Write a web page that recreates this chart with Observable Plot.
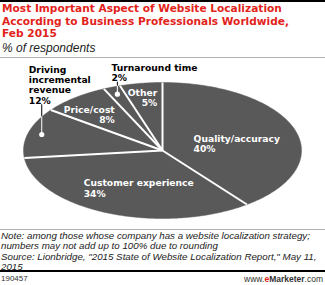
<!DOCTYPE html>
<html><head><meta charset="utf-8">
<script src="https://cdn.jsdelivr.net/npm/d3@7"></script>
<script src="https://cdn.jsdelivr.net/npm/@observablehq/plot@0.6"></script>
<style>
body{margin:0;background:#fff;}
#wrap{position:relative;width:325px;height:285px;overflow:hidden;font-family:"Liberation Sans",Arial,sans-serif;}
.bar{position:absolute;left:0;width:325px;}
.title{position:absolute;left:2px;top:2px;font-family:"DejaVu Sans",sans-serif;font-weight:bold;font-size:10.6px;line-height:12.5px;color:#e2231a;white-space:nowrap;}
.sub{position:absolute;left:2px;top:41px;font-style:italic;font-size:12px;line-height:14px;color:#222;}
#chart{position:absolute;left:0;top:58px;}
.notes{position:absolute;left:1px;top:231px;font-style:italic;font-size:9.75px;line-height:10.4px;color:#222;white-space:nowrap;}
.foot{position:absolute;top:274px;font-size:8px;line-height:10px;color:#333;}
</style></head>
<body><div id="wrap">
<div class="bar" style="top:0;height:2px;background:#000"></div>
<div class="title">Most Important Aspect of Website Localization<br>According to Business Professionals Worldwide,<br>Feb 2015</div>
<div class="sub">% of respondents</div>
<div class="bar" style="top:57px;height:1px;background:#b0b0b0"></div>
<div id="chart"></div>
<div class="bar" style="top:229px;height:1px;background:#b0b0b0"></div>
<div class="notes">Note: among those whose company has a website localization strategy;<br>numbers may not add up to 100% due to rounding<br>Source: Lionbridge, "2015 State of Website Localization Report," May 11,<br>2015</div>
<div class="bar" style="top:270px;height:2px;background:#000"></div>
<div class="foot" style="left:1px">190457</div>
<div class="foot" style="right:2px;font-size:8.5px">www.<span style="color:#e2231a;font-weight:bold">e</span><b>Marketer</b>.com</div>
</div>
<script>
const categories = ["Quality/accuracy","Customer experience","Driving incremental revenue","Price/cost","Turnaround time","Other"];
const values = [40,34,12,8,2,5];
const labelTexts = ["Quality/accuracy","Customer experience","Driving\nincremental\nrevenue","Price/cost","Turnaround time","Other"];

// layout (pixels within the svg)
const CX = 162, CY = 92, RX = 139, RY = 68;
const PIE = "#595959";

const arcs = d3.pie().sort(null).value(d => d)(values);
const pt = (a, r) => ({x: r * Math.sin(a), y: r * Math.cos(a)});

const slicePts = [];
arcs.forEach((s, i) => {
  slicePts.push({k: i, ...pt(0, 0)});
  const n = Math.max(2, Math.ceil((s.endAngle - s.startAngle) / 0.01));
  for (let j = 0; j <= n; j++) {
    const a = s.startAngle + (s.endAngle - s.startAngle) * j / n;
    slicePts.push({k: i, ...pt(a, 1)});
  }
});
const seps = arcs.map(s => ({x1: 0, y1: 0, x2: Math.sin(s.startAngle), y2: Math.cos(s.startAngle)}));

// label placement options (style, not data)
const labelOpts = [
  {r: 0.35, dx: -15, dy: 1, anchor: "start", fill: "white"},
  {r: 0.6, dx: -46, dy: 0, anchor: "start", fill: "white"},
  {outside: true, r: 0.9, lift: 12, dx: -13, dy: -1, anchor: "start"},
  {r: 0.6, dx: 5, dy: -4, anchor: "end", fill: "white"},
  {outside: true, r: 0.89, lift: 4, dx: -6, dy: -1, anchor: "start"},
  {r: 0.8, dx: 12, dy: 1, anchor: "end", fill: "white"}
];

const marks = [
  Plot.line(slicePts, {x: "x", y: "y", z: "k", fill: PIE, stroke: PIE, strokeWidth: 0.5, curve: "linear-closed"}),
  Plot.link(seps, {x1: "x1", y1: "y1", x2: "x2", y2: "y2", stroke: "white", strokeWidth: 2})
];

arcs.forEach((s, i) => {
  const o = labelOpts[i];
  const mid = (s.startAngle + s.endAngle) / 2;
  const p = pt(mid, o.r);
  const txt = labelTexts[i] + "\n" + values[i] + "%";
  const font = {fontFamily: "DejaVu Sans, sans-serif", fontWeight: "bold", fontSize: 9.2, lineHeight: 1.13};
  if (o.outside) {
    const edge = Math.sqrt(1 - p.x * p.x);
    const top = edge + o.lift / RY;
    marks.push(
      Plot.ruleX([p.x], {y1: p.y, y2: edge, stroke: "white", strokeWidth: 1}),
      Plot.ruleX([p.x], {y1: edge, y2: top, stroke: "black", strokeWidth: 1}),
      Plot.dot([p], {x: "x", y: "y", r: 2.6, fill: "white", stroke: null}),
      Plot.text([{x: p.x, y: top, t: txt}], {x: "x", y: "y", text: "t", dx: o.dx, dy: o.dy, textAnchor: o.anchor, lineAnchor: "bottom", fill: "black", ...font})
    );
  } else {
    marks.push(Plot.text([{...p, t: txt}], {x: "x", y: "y", text: "t", dx: o.dx, dy: o.dy, textAnchor: o.anchor, lineAnchor: "middle", fill: o.fill, ...font}));
  }
});

const chart = Plot.plot({
  width: 325, height: 170, margin: 0,
  x: {domain: [-1, 1], range: [CX - RX, CX + RX], axis: null},
  y: {domain: [-1, 1], range: [CY + RY, CY - RY], axis: null},
  marks
});
document.getElementById("chart").appendChild(chart);
</script>
</body></html>
